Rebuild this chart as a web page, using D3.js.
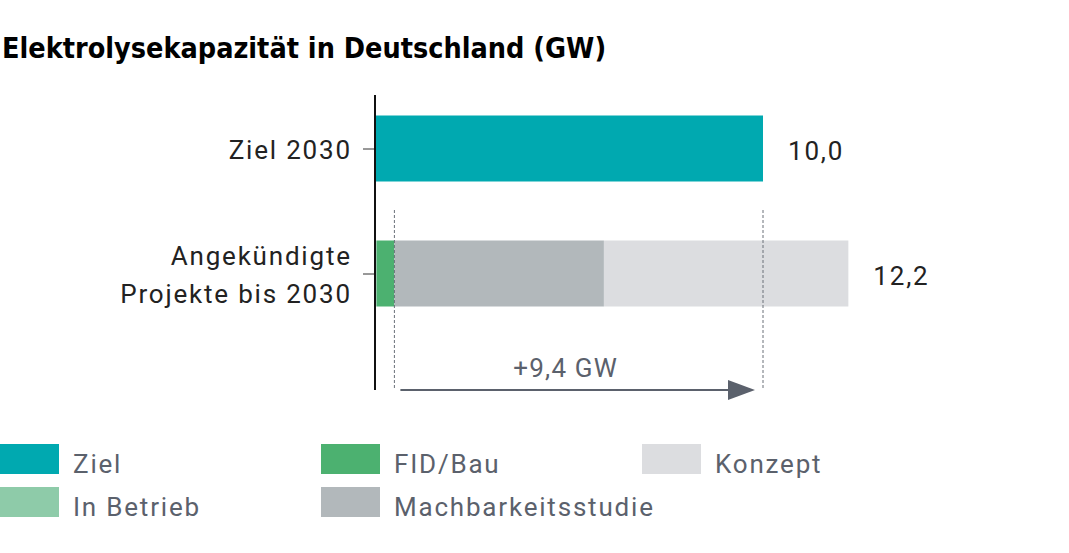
<!DOCTYPE html>
<html>
<head>
<meta charset="utf-8">
<script src="https://cdn.jsdelivr.net/npm/d3@7/dist/d3.min.js"></script>
<style>
  html, body { margin: 0; padding: 0; background: #fff; }
  svg { display: block; }
</style>
</head>
<body>
<svg id="chart" width="1069" height="553"></svg>
<script>
// ---- data ----
const title = "Elektrolysekapazität in Deutschland (GW)";
const categories = ["Ziel 2030", "Angekündigte\nProjekte bis 2030"];
const seriesNames = ["Ziel", "In Betrieb", "FID/Bau", "Machbarkeitsstudie", "Konzept"];
const zielValues = [10.0, 0];
const inBetriebValues = [0, 0.05];
const fidBauValues = [0, 0.45];
const machbarkeitValues = [0, 5.4];
const konzeptValues = [0, 6.3];
const totalLabels = ["10,0", "12,2"];
const gapLabel = "+9,4 GW";
const gapFrom = 0.5;   // start of the gap (built capacity)
const gapTo = 10.0;    // target
const colors = {
  "Ziel": "#00a9b0",
  "In Betrieb": "#8ecba9",
  "FID/Bau": "#4cb170",
  "Machbarkeitsstudie": "#b2b8bb",
  "Konzept": "#dcdde0"
};

const svg = d3.select("#chart");
const FONT = "Roboto, 'Open Sans', sans-serif";
const LS = 1.8;

// title
svg.append("text")
  .attr("x", 2).attr("y", 58)
  .attr("font-family", "'DejaVu Sans Condensed', 'DejaVu Sans', sans-serif")
  .attr("font-weight", "bold")
  .attr("font-size", 28.5)
  .attr("fill", "#000")
  .text(title);

// scales
const x = d3.scaleLinear().domain([0, 10]).range([375, 763]);
const y = d3.scalePoint().domain(categories).range([86, 336]).padding(0.5);
const barH = 66;

// stacked data
const rows = categories.map((c, i) => ({
  cat: c,
  "Ziel": zielValues[i],
  "In Betrieb": inBetriebValues[i],
  "FID/Bau": fidBauValues[i],
  "Machbarkeitsstudie": machbarkeitValues[i],
  "Konzept": konzeptValues[i]
}));
const stack = d3.stack().keys(seriesNames);
const stacked = stack(rows);

const gBars = svg.append("g");
stacked.forEach(layer => {
  gBars.selectAll(null)
    .data(layer)
    .join("rect")
    .filter(d => d[1] - d[0] > 0)
    .attr("x", d => x(d[0]))
    .attr("width", d => x(d[1]) - x(d[0]))
    .attr("y", d => y(d.data.cat) - barH / 2)
    .attr("height", barH)
    .attr("fill", colors[layer.key]);
});

// dashed reference lines
[gapFrom, gapTo].forEach(v => {
  svg.append("line")
    .attr("x1", x(v)).attr("x2", x(v))
    .attr("y1", 210).attr("y2", 390)
    .attr("stroke", "#6b7079")
    .attr("stroke-width", 1)
    .attr("stroke-dasharray", "3,2");
});

// y axis
const yAxis = d3.axisLeft(y).tickSize(12).tickFormat("");
const gAxis = svg.append("g").attr("transform", "translate(375,0)").call(yAxis);
gAxis.select(".domain").remove();
gAxis.selectAll(".tick line").attr("stroke", "#333").attr("stroke-width", 1);
svg.append("line")
  .attr("x1", 375).attr("x2", 375).attr("y1", 95).attr("y2", 390)
  .attr("stroke", "#111").attr("stroke-width", 2);

// category labels
categories.forEach(c => {
  const lines = c.split("\n");
  const t = svg.append("text")
    .attr("text-anchor", "end")
    .attr("font-family", FONT)
    .attr("font-size", 26)
    .attr("letter-spacing", LS)
    .attr("fill", "#222");
  const lh = 38;
  const y0 = y(c) + 10 - (lines.length - 1) * lh / 2;
  lines.forEach((ln, j) => {
    t.append("tspan").attr("x", 350 + LS).attr("y", y0 + j * lh).text(ln);
  });
});

// total labels
rows.forEach((r, i) => {
  const total = seriesNames.reduce((s, k) => s + r[k], 0);
  svg.append("text")
    .attr("x", x(total) + 25)
    .attr("y", y(r.cat) + 11)
    .attr("font-family", FONT)
    .attr("font-size", 26)
    .attr("letter-spacing", LS)
    .attr("fill", "#222")
    .text(totalLabels[i]);
});

// arrow
const arrowY = 390;
svg.append("line")
  .attr("x1", x(gapFrom) + 6).attr("x2", x(gapTo) - 30)
  .attr("y1", arrowY).attr("y2", arrowY)
  .attr("stroke", "#5b616c").attr("stroke-width", 2);
svg.append("path")
  .attr("d", `M${x(gapTo) - 35},${arrowY - 10} L${x(gapTo) - 8},${arrowY} L${x(gapTo) - 35},${arrowY + 10} Z`)
  .attr("fill", "#5b616c");
svg.append("text")
  .attr("x", (x(gapFrom) + x(gapTo)) / 2 - 13)
  .attr("y", 377)
  .attr("text-anchor", "middle")
  .attr("font-family", FONT)
  .attr("font-size", 26)
  .attr("letter-spacing", 1.2)
  .attr("fill", "#5b616c")
  .text(gapLabel);

// legend
const legendItems = [
  { name: "Ziel", col: 0, row: 0 },
  { name: "In Betrieb", col: 0, row: 1 },
  { name: "FID/Bau", col: 1, row: 0 },
  { name: "Machbarkeitsstudie", col: 1, row: 1 },
  { name: "Konzept", col: 2, row: 0 }
];
const gLeg = svg.append("g");
legendItems.forEach(it => {
  const lx = it.col * 321, ly = 444 + it.row * 43;
  gLeg.append("rect")
    .attr("x", lx).attr("y", ly).attr("width", 59).attr("height", 30)
    .attr("fill", colors[it.name]);
  gLeg.append("text")
    .attr("x", lx + 73).attr("y", ly + 29)
    .attr("font-family", FONT)
    .attr("font-size", 26)
    .attr("letter-spacing", LS)
    .attr("fill", "#5b616c")
    .text(it.name);
});
</script>
</body>
</html>
